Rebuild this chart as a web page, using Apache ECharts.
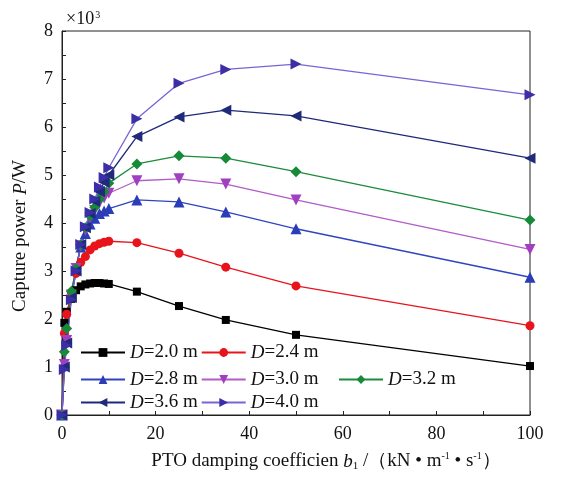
<!DOCTYPE html>
<html>
<head>
<meta charset="utf-8">
<script src="https://cdn.jsdelivr.net/npm/echarts@6/dist/echarts.min.js"></script>
<style>
	html, body { margin: 0; padding: 0; background: #fff; }
	#chart { width: 566px; height: 477px; }
</style>
</head>
<body>
<div id="chart"></div>
<script>
// 데이터 (x: PTO 감쇠계수, y: 포획 출력 x10^3 W)
var dampingValues = [0, 0.5, 1, 2, 3, 4, 5, 6, 7, 8, 9, 10, 16, 25, 35, 50, 100];
var seriesNames = ['D=2.0 m', 'D=2.4 m', 'D=2.8 m', 'D=3.0 m', 'D=3.2 m', 'D=3.6 m', 'D=4.0 m'];
var powerD20 = [0, 1.92, 2.15, 2.42, 2.6, 2.68, 2.72, 2.74, 2.75, 2.75, 2.74, 2.73, 2.57, 2.27, 1.98, 1.67, 1.02];
var powerD24 = [0, 1.7, 2.1, 2.55, 2.95, 3.18, 3.3, 3.44, 3.52, 3.57, 3.6, 3.62, 3.59, 3.37, 3.08, 2.69, 1.86];
var powerD28 = [0, 1.1, 1.6, 2.5, 3.05, 3.5, 3.78, 3.98, 4.1, 4.2, 4.25, 4.3, 4.48, 4.44, 4.23, 3.88, 2.87];
var powerD30 = [0, 1.05, 1.55, 2.5, 3.05, 3.52, 3.85, 4.1, 4.26, 4.42, 4.52, 4.62, 4.88, 4.92, 4.81, 4.48, 3.45];
var powerD32 = [0, 1.32, 1.8, 2.58, 3.05, 3.55, 3.9, 4.15, 4.33, 4.5, 4.65, 4.83, 5.23, 5.4, 5.35, 5.07, 4.06];
var powerD36 = [0, 1.0, 1.5, 2.45, 3.0, 3.55, 3.9, 4.2, 4.45, 4.65, 4.85, 5.0, 5.8, 6.21, 6.35, 6.23, 5.35];
var powerD40 = [0, 0.95, 1.45, 2.4, 3.0, 3.55, 3.92, 4.22, 4.5, 4.75, 4.95, 5.15, 6.17, 6.91, 7.2, 7.31, 6.67];
var xTicks = [0, 20, 40, 60, 80, 100];
var yTicks = [0, 1, 2, 3, 4, 5, 6, 7, 8];

var serifFont = "'Liberation Serif', 'Times New Roman', serif";

// 시리즈 스타일
var styleList = [
	{ data: powerD20, line: '#000000', mark: '#000000', symbol: 'rect', size: 8, rotate: 0 },
	{ data: powerD24, line: '#e8141c', mark: '#e8141c', symbol: 'circle', size: 9, rotate: 0 },
	{ data: powerD28, line: '#3144c0', mark: '#2a3cb8', symbol: 'triangle', size: 11, rotate: 0 },
	{ data: powerD30, line: '#b25cc8', mark: '#a23ec0', symbol: 'triangle', size: 11, rotate: 180 },
	{ data: powerD32, line: '#1a8c3c', mark: '#168a38', symbol: 'diamond', size: 11, rotate: 0 },
	{ data: powerD36, line: '#1f2a7a', mark: '#1f2a7a', symbol: 'triangle', size: 11, rotate: 90 },
	{ data: powerD40, line: '#7a64d4', mark: '#3b2ea6', symbol: 'triangle', size: 11, rotate: -90 }
];

var seriesList = new Array();
echarts.util.each(styleList, function(s, idx) {
	var points = new Array();
	for (var i = 0; i < dampingValues.length; i++) {
		points.push([dampingValues[i], s.data[i]]);
	}
	seriesList.push({
		name: seriesNames[idx],
		type: 'line',
		data: points,
		symbol: s.symbol,
		symbolSize: s.size,
		symbolRotate: s.rotate,
		lineStyle: { color: s.line, width: 1.3 },
		itemStyle: { color: s.mark },
		animation: false
	});
});

function makeLegend(names, left, top) {
	return {
		data: names,
		left: left,
		top: top,
		orient: 'horizontal',
		itemWidth: 44,
		itemHeight: 11,
		itemGap: 3,
		padding: 0,
		formatter: function(name) {
			return '{i|D}{n|' + name.slice(1) + '}';
		},
		textStyle: {
			color: '#111',
			rich: {
				i: { fontFamily: serifFont, fontSize: 19, fontStyle: 'italic', color: '#111' },
				n: { fontFamily: serifFont, fontSize: 19, color: '#111' }
			}
		}
	};
}

var chartLocationInit = echarts.init(document.getElementById('chart'));

var option = {
	backgroundColor: '#fff',
	title: {
		text: '{n|×10}{s|3}',
		left: 61,
		top: 5,
		textStyle: {
			fontWeight: 'normal',
			rich: {
				n: { fontFamily: serifFont, fontSize: 18, fontWeight: 'normal', color: '#111', verticalAlign: 'bottom' },
				s: { fontFamily: serifFont, fontSize: 10, fontWeight: 'normal', color: '#111', verticalAlign: 'top', padding: [0, 0, 8, 1] }
			}
		}
	},
	legend: [
		makeLegend([seriesNames[0], seriesNames[1]], 80, 343),
		makeLegend([seriesNames[2], seriesNames[3]], 80, 370),
		makeLegend([seriesNames[4]], 338, 370),
		makeLegend([seriesNames[5], seriesNames[6]], 80, 393)
	],
	grid: {
		left: 62,
		right: 36,
		top: 31,
		bottom: 62,
		show: true,
		borderColor: '#222',
		borderWidth: 1
	},
	xAxis: {
		type: 'value',
		min: xTicks[0],
		max: xTicks[xTicks.length - 1],
		interval: 20,
		name: '{n|PTO damping coefficien }{i|b}{sub|1}{n| /（kN • m}{sup|-1}{n| • s}{sup|-1}{n|）}',
		nameLocation: 'middle',
		nameGap: 36,
		nameTextStyle: {
			padding: [0, 0, 0, 60],
			rich: {
				n: { fontFamily: serifFont, fontSize: 19, color: '#111' },
				i: { fontFamily: serifFont, fontSize: 19, fontStyle: 'italic', color: '#111' },
				sub: { fontFamily: serifFont, fontSize: 11, color: '#111', padding: [10, 0, 0, 0] },
				sup: { fontFamily: serifFont, fontSize: 10, color: '#111', padding: [0, 0, 10, 0] }
			}
		},
		axisLine: { lineStyle: { color: '#222', width: 1 } },
		axisTick: { inside: true, length: 4, lineStyle: { color: '#222' } },
		minorTick: { show: true, splitNumber: 2, length: 4, lineStyle: { color: '#222' } },
		splitLine: { show: false },
		axisLabel: { fontFamily: serifFont, fontSize: 18, color: '#111', margin: 10 }
	},
	yAxis: {
		type: 'value',
		min: yTicks[0],
		max: yTicks[yTicks.length - 1],
		interval: 1,
		name: 'Capture power {i|P}/W',
		nameLocation: 'middle',
		nameGap: 32,
		nameTextStyle: {
			fontFamily: serifFont,
			fontSize: 19,
			color: '#111',
			padding: [0, 26, 0, 0],
			rich: {
				i: { fontFamily: serifFont, fontSize: 19, fontStyle: 'italic', color: '#111' }
			}
		},
		axisLine: { show: true, lineStyle: { color: '#222', width: 1 } },
		axisTick: { inside: true, length: 4, lineStyle: { color: '#222' } },
		minorTick: { show: true, splitNumber: 2, length: 4, lineStyle: { color: '#222' } },
		splitLine: { show: false },
		axisLabel: { fontFamily: serifFont, fontSize: 18, color: '#111', margin: 9 }
	},
	series: seriesList
};

chartLocationInit.setOption(option);
</script>
</body>
</html>
